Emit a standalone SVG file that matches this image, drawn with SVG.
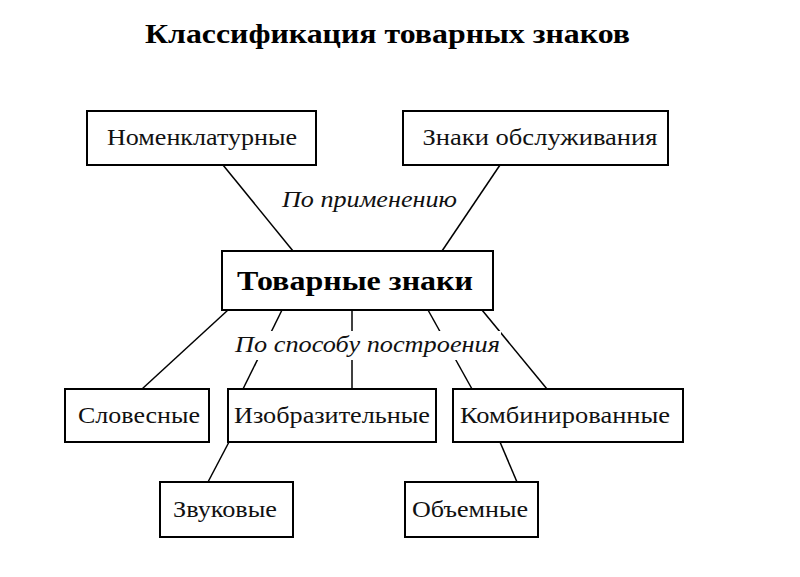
<svg xmlns="http://www.w3.org/2000/svg" width="800" height="577" viewBox="0 0 800 577">
<style>
.box{fill:#fff;stroke:#000;stroke-width:2}
.t{font-family:"Liberation Serif","Times New Roman",serif;font-size:24px;fill:#111;text-anchor:middle}
.lbl{font-family:"Liberation Serif","Times New Roman",serif;font-size:23px;font-style:italic;fill:#111}
.title{font-family:"Liberation Serif","Times New Roman",serif;font-size:28px;font-weight:bold;fill:#000}
.main{font-family:"Liberation Serif","Times New Roman",serif;font-size:28px;font-weight:bold;fill:#000}
.ln{stroke:#000;stroke-width:1.5;fill:none}
</style>
<rect width="800" height="577" fill="#fff"/>
<text class="title" x="145" y="43" textLength="485" lengthAdjust="spacingAndGlyphs">Классификация товарных знаков</text>

<g id="connectors">
<line class="ln" x1="223" y1="165" x2="293" y2="251"/>
<line class="ln" x1="500" y1="165" x2="442" y2="251"/>
<line class="ln" x1="228" y1="310" x2="142" y2="389"/>
<line class="ln" x1="282" y1="310" x2="243" y2="389"/>
<line class="ln" x1="352" y1="310" x2="352" y2="389"/>
<line class="ln" x1="428" y1="310" x2="472" y2="389"/>
<line class="ln" x1="482" y1="310" x2="547" y2="389"/>
<line class="ln" x1="229" y1="442" x2="208" y2="482"/>
<line class="ln" x1="500" y1="442" x2="517" y2="482"/>
</g>

<g id="label-application">
<text class="lbl" x="282" y="207" textLength="175" lengthAdjust="spacingAndGlyphs">По применению</text>
</g>
<g id="label-construction">
<rect x="233" y="331" width="268" height="29" fill="#fff"/>
<text class="lbl" x="235" y="352" textLength="265" lengthAdjust="spacingAndGlyphs">По способу построения</text>
</g>

<g id="node-nomenclature">
<rect class="box" x="87" y="111" width="229" height="54"/>
<text class="t" x="202" y="145" textLength="190" lengthAdjust="spacingAndGlyphs">Номенклатурные</text>
</g>
<g id="node-service">
<rect class="box" x="403" y="111" width="265" height="54"/>
<text class="t" x="540" y="145" textLength="235" lengthAdjust="spacingAndGlyphs">Знаки обслуживания</text>
</g>
<g id="node-trademarks">
<rect class="box" x="222" y="251" width="271" height="59"/>
<text class="main" x="237" y="290" textLength="236" lengthAdjust="spacingAndGlyphs">Товарные знаки</text>
</g>
<g id="node-verbal">
<rect class="box" x="65" y="389" width="144" height="53"/>
<text class="t" x="139" y="423" textLength="122" lengthAdjust="spacingAndGlyphs">Словесные</text>
</g>
<g id="node-pictorial">
<rect class="box" x="228" y="389" width="208" height="53"/>
<text class="t" x="332" y="423" textLength="196" lengthAdjust="spacingAndGlyphs">Изобразительные</text>
</g>
<g id="node-combined">
<rect class="box" x="453" y="389" width="230" height="53"/>
<text class="t" x="565" y="423" textLength="210" lengthAdjust="spacingAndGlyphs">Комбинированные</text>
</g>
<g id="node-sound">
<rect class="box" x="160" y="482" width="133" height="55"/>
<text class="t" x="225" y="517" textLength="104" lengthAdjust="spacingAndGlyphs">Звуковые</text>
</g>
<g id="node-volume">
<rect class="box" x="405" y="482" width="133" height="55"/>
<text class="t" x="470" y="517" textLength="116" lengthAdjust="spacingAndGlyphs">Объемные</text>
</g>
</svg>
